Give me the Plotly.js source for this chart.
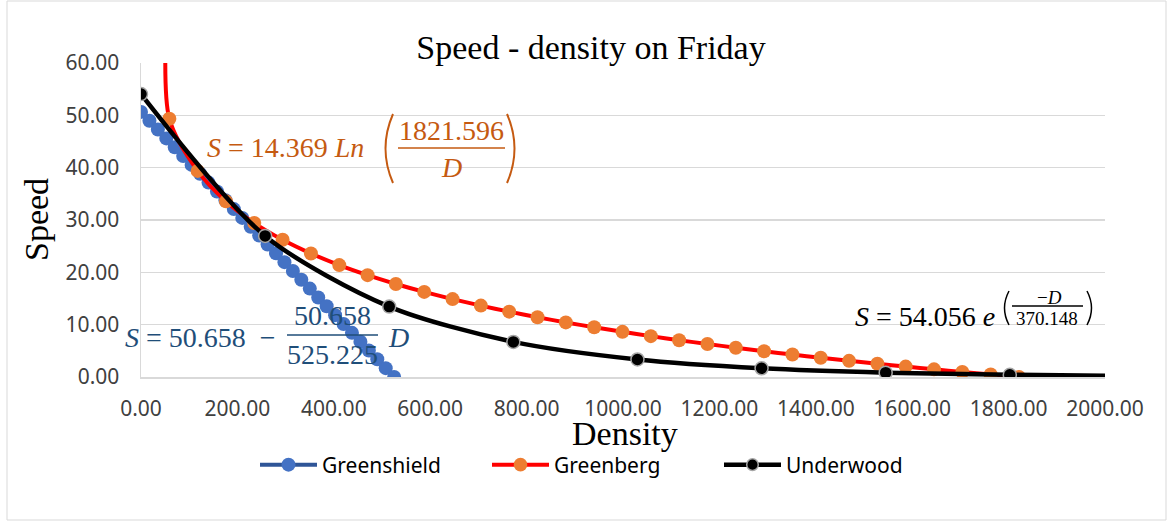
<!DOCTYPE html>
<html>
<head>
<meta charset="utf-8">
<script src="https://cdn.plot.ly/plotly-3.0.1.min.js"></script>
<style>html,body{margin:0;padding:0;background:#fff;}#chart{width:1175px;height:528px;}</style>
</head>
<body>
<div id="chart"></div>
<script>
// ---- data ----
const greenshieldDensity = [0, 17.5, 35.0, 52.5, 70.0, 87.5, 105.0, 122.6, 140.1, 157.6, 175.1, 192.6, 210.1, 227.6, 245.1, 262.6, 280.1, 297.6, 315.1, 332.6, 350.2, 367.7, 385.2, 402.7, 420.2, 437.7, 455.2, 472.7, 490.2, 507.7, 525.2];
const greenshieldSpeed = [50.66, 48.97, 47.28, 45.59, 43.90, 42.22, 40.53, 38.84, 37.15, 35.46, 33.77, 32.08, 30.40, 28.71, 27.02, 25.33, 23.64, 21.95, 20.26, 18.58, 16.89, 15.20, 13.51, 11.82, 10.13, 8.44, 6.75, 5.07, 3.38, 1.69, 0.00];

// first entry is the line's run-off above the plot (no marker)
const greenbergDensity = [52, 58.8, 117.5, 176.3, 235.0, 293.8, 352.6, 411.3, 470.1, 528.8, 587.6, 646.4, 705.1, 763.9, 822.6, 881.4, 940.2, 998.9, 1057.7, 1116.4, 1175.2, 1234.0, 1292.7, 1351.5, 1410.2, 1469.0, 1527.8, 1586.5, 1645.3, 1704.0, 1762.8, 1821.6];
const greenbergSpeed = [68, 49.34, 39.38, 33.56, 29.42, 26.22, 23.60, 21.38, 19.46, 17.77, 16.26, 14.89, 13.64, 12.49, 11.42, 10.43, 9.50, 8.63, 7.81, 7.03, 6.30, 5.60, 4.93, 4.29, 3.68, 3.09, 2.53, 1.99, 1.46, 0.96, 0.47, 0.00];

// last entry is the curve's extension to the axis end (no marker)
const underwoodDensity = [0, 257.5, 515, 772.5, 1030, 1287.5, 1545, 1802.5, 2000];
const underwoodSpeed = [54.06, 26.96, 13.45, 6.71, 3.35, 1.67, 0.83, 0.42, 0.24];

const seriesNames = ['Greenshield', 'Greenberg', 'Underwood'];
const xTicks = [0, 200, 400, 600, 800, 1000, 1200, 1400, 1600, 1800, 2000];
const yTicks = [0, 10, 20, 30, 40, 50, 60];

// ---- layout helpers (pixel -> paper units of the plot box) ----
const L = 141, R = 1105, T = 63, B = 377;
const PX = px => (px - L) / (R - L);
const PY = py => (B - py) / (B - T);

const serif = 'Liberation Serif, Times New Roman, serif';
const sans = 'Noto Sans, Open Sans, sans-serif';
const orangeTxt = '#C55A11', blueTxt = '#1F4E79';

const traces = [
  {
    x: greenshieldDensity, y: greenshieldSpeed, name: seriesNames[0],
    type: 'scatter', mode: 'lines+markers',
    line: {color: '#2F5597', width: 4},
    marker: {color: '#4472C4', size: 14, opacity: 1, line: {width: 0}}
  },
  {
    x: greenbergDensity, y: greenbergSpeed, name: seriesNames[1],
    type: 'scatter', mode: 'lines+markers',
    line: {color: '#FF0000', width: 4, shape: 'spline', smoothing: 0.8},
    marker: {color: '#ED7D31', size: greenbergDensity.map((d, i) => i === 0 ? 0 : 14), opacity: 1, line: {width: 0}}
  },
  {
    x: underwoodDensity, y: underwoodSpeed, name: seriesNames[2],
    type: 'scatter', mode: 'lines+markers',
    line: {color: '#000000', width: 4.5, shape: 'spline', smoothing: 0.8},
    marker: {color: '#000000', size: underwoodDensity.map((d, i) => i === underwoodDensity.length - 1 ? 0 : 13),
             opacity: 1, line: {color: '#A6A6A6', width: 1.5}}
  }
];

function txt(x, y, text, size, color, xanchor) {
  return {x: PX(x), y: PY(y), xref: 'paper', yref: 'paper', text: text, showarrow: false,
          xanchor: xanchor || 'center', yanchor: 'middle',
          font: {family: serif, size: size, color: color}};
}
function paren(x0, y0, y1, bulge, color, w) {
  const ym = (y0 + y1) / 2;
  return {type: 'path', xref: 'paper', yref: 'paper',
          path: `M ${PX(x0)},${PY(y0)} Q ${PX(x0 + bulge)},${PY(ym)} ${PX(x0)},${PY(y1)}`,
          line: {color: color, width: w || 2}};
}
function bar(x0, x1, y, color) {
  return {type: 'line', xref: 'paper', yref: 'paper', x0: PX(x0), x1: PX(x1), y0: PY(y), y1: PY(y),
          line: {color: color, width: 1.5}};
}

const annotations = [
  // axis titles
  {xref: 'paper', yref: 'paper', x: PX(36), y: 0.5, text: 'Speed', textangle: -90,
   showarrow: false, xanchor: 'center', yanchor: 'middle', font: {family: serif, size: 34, color: '#000'}},
  {xref: 'paper', yref: 'paper', x: PX(625), y: PY(433), text: 'Density',
   showarrow: false, xanchor: 'center', yanchor: 'middle', font: {family: serif, size: 34, color: '#000'}},
  // Greenberg equation
  txt(205, 147, '<i>S</i> = 14.369 <i>Ln</i>', 28, orangeTxt, 'left'),
  txt(451, 130, '1821.596', 28, orangeTxt),
  txt(451, 167, '<i>D</i>', 28, orangeTxt),
  // Greenshield equation
  txt(123, 337, '<i>S</i> = 50.658 &nbsp;− ', 28, blueTxt, 'left'),
  txt(332, 315, '50.658', 28, blueTxt),
  txt(332, 354, '525.225', 28, blueTxt),
  txt(398, 337, '<i>D</i>', 28, blueTxt),
  // Underwood equation
  txt(853, 316, '<i>S</i> = 54.056 <i>e</i>', 28, '#000', 'left'),
  txt(1049, 297, '−<i>D</i>', 19, '#000'),
  txt(1047, 318, '370.148', 19, '#000')
];

const shapes = [
  // chart area border
  {type: 'rect', xref: 'paper', yref: 'paper', x0: PX(7), x1: PX(1166),
   y0: PY(520), y1: PY(1), line: {color: '#D9D9D9', width: 1}},
  paren(393, 114, 183, -15, orangeTxt, 2),
  bar(398, 505, 148, orangeTxt),
  paren(507, 114, 183, 15, orangeTxt, 2),
  bar(287, 378, 335, blueTxt),
  paren(1009, 291, 325, -9, '#000', 1.5),
  bar(1012, 1083, 306, '#000'),
  paren(1087, 291, 325, 9, '#000', 1.5)
];

const layout = {
  width: 1175, height: 528,
  margin: {l: L, r: 1175 - R, t: T, b: 528 - B, pad: 0},
  paper_bgcolor: '#ffffff', plot_bgcolor: '#ffffff',
  title: {text: 'Speed - density on Friday', xref: 'container', yref: 'container',
          x: 591 / 1175, xanchor: 'center', y: 1 - 47 / 528, yanchor: 'middle',
          font: {family: serif, size: 34, color: '#000'}},
  xaxis: {range: [0, 2000], tickvals: xTicks, tickformat: '.2f', showgrid: false, zeroline: false,
          showline: true, linecolor: '#D9D9D9', linewidth: 1.5, ticks: '',
          ticklabelstandoff: 12, tickfont: {family: sans, size: 21, color: '#404040'}, fixedrange: true},
  yaxis: {range: [0, 60], tickvals: yTicks, tickformat: '.2f', showgrid: true, gridcolor: '#D9D9D9', gridwidth: 1.5,
          zeroline: false, showline: true, linecolor: '#D9D9D9', linewidth: 1.5, ticks: '',
          ticklabelstandoff: 16, tickfont: {family: sans, size: 21, color: '#404040'}, fixedrange: true},
  showlegend: true,
  legend: {orientation: 'h', xref: 'paper', yref: 'paper', x: PX(603), xanchor: 'center',
           y: PY(465), yanchor: 'middle', itemwidth: 57, entrywidth: 160,
           font: {family: sans, size: 21, color: '#000'}, bgcolor: 'rgba(0,0,0,0)'},
  annotations: annotations,
  shapes: shapes
};

Plotly.newPlot('chart', traces, layout, {displayModeBar: false, staticPlot: true});
</script>
</body>
</html>
